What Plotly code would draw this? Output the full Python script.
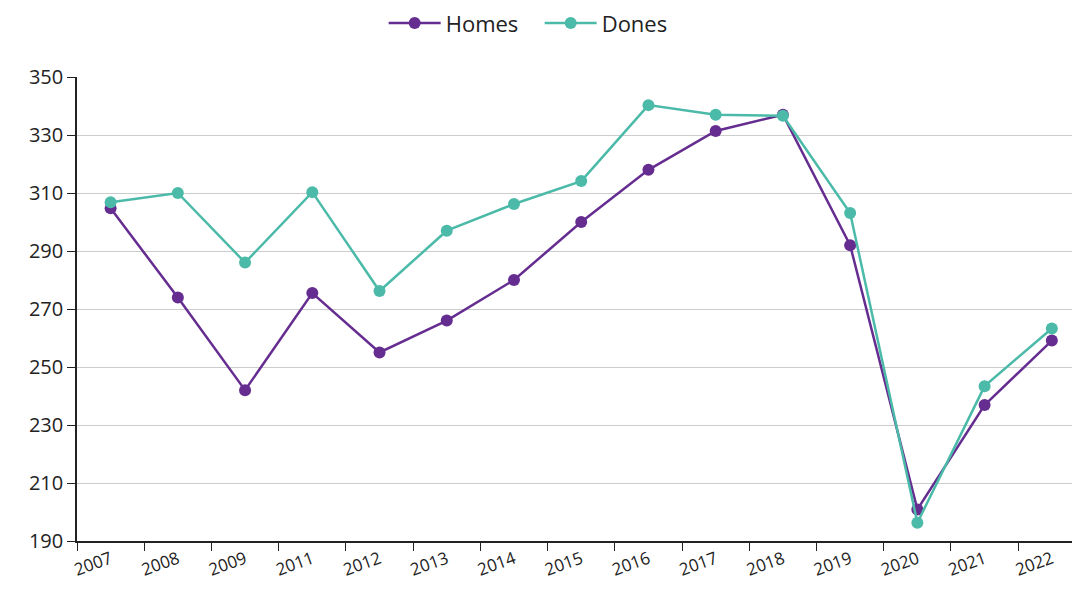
import plotly.graph_objects as go

years = ["2007", "2008", "2009", "2011", "2012", "2013", "2014", "2015",
         "2016", "2017", "2018", "2019", "2020", "2021", "2022"]
homes = [304.7, 274, 242, 275.5, 255, 266, 280, 300, 318, 331.4, 337, 292, 200.9, 236.9, 259.1]
dones = [306.8, 310, 286, 310.3, 276.2, 297, 306.2, 314.1, 340.3, 337, 336.6, 303.1, 196.3, 243.4, 263.3]
y_ticks = [190, 210, 230, 250, 270, 290, 310, 330, 350]

purple = "#662d91"
teal = "#4bbaa8"

fig = go.Figure()
fig.add_trace(go.Scatter(x=years, y=homes, name="Homes", mode="lines+markers",
                         line=dict(color=purple, width=2.5),
                         marker=dict(size=12, color=purple)))
fig.add_trace(go.Scatter(x=years, y=dones, name="Dones", mode="lines+markers",
                         line=dict(color=teal, width=2.5),
                         marker=dict(size=12, color=teal)))

fig.update_layout(
    width=1072, height=590,
    margin=dict(l=77, r=0, t=77, b=49, autoexpand=False),
    plot_bgcolor="white", paper_bgcolor="white",
    font=dict(family="'Open Sans', sans-serif", color="#222222"),
    legend=dict(orientation="h", x=0.465, xanchor="center", y=1.116, yanchor="middle",
                font=dict(size=22), itemwidth=52, entrywidth=89),
    showlegend=True,
)
# the source chart is cut off on the right, part way through the last category
fig.update_xaxes(type="category", tickson="boundaries", ticks="outside", ticklen=8,
                 tickcolor="#222222", showline=True, linecolor="#222222", linewidth=1.5,
                 tickangle=-20, tickfont=dict(size=17), automargin=False,
                 showgrid=False, range=[-0.5, len(years) - 0.7])
fig.update_yaxes(range=[190, 350], tickvals=y_ticks, ticks="outside", ticklen=8,
                 tickcolor="#222222", showline=True, linecolor="#222222", linewidth=1.5,
                 gridcolor="#cccccc", gridwidth=1, zeroline=False, automargin=False,
                 tickfont=dict(size=20))

# drop the browser's default page margin so the figure sits at the top-left corner
fig.write_html("out.html", config={"displayModeBar": False},
               post_script="document.body.style.margin = '0';")
